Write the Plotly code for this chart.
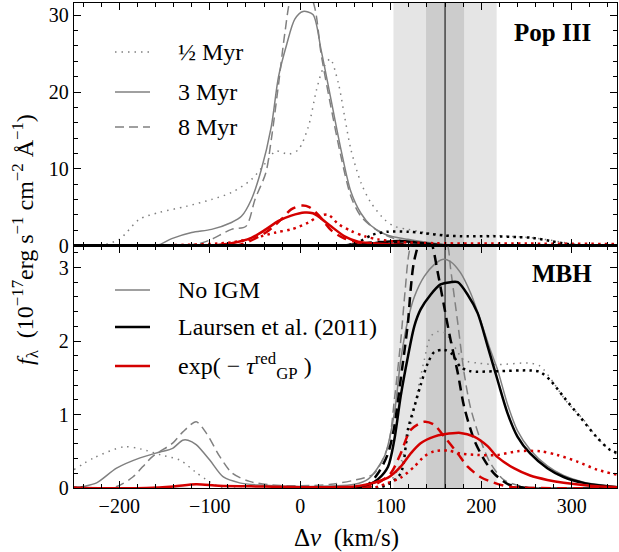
import plotly.graph_objects as go
from plotly.subplots import make_subplots

# ---------------- axis ranges / markers ----------------
X_RANGE = [-250, 350]
TOP_YRANGE = [0, 31.6]
BOT_YRANGE = [0, 3.3]
LAURSEN_V = 160
BAND_OUTER = [103, 217]
BAND_INNER = [139, 181]

# ---------------- Pop III panel ----------------
v_p3_int_05 = [-250, -222, -200, -178, -156, -126, -98, -76, -54, -38, -27, -13, -2, 9, 18, 25, 33, 42, 49, 56, 67, 78, 93, 104, 119, 137, 159, 185, 210, 231, 256, 276, 291, 307, 320, 350]
f_p3_int_05 = [0, 0, 0.8, 3.4, 4.3, 5.1, 6.0, 6.9, 8.6, 10.8, 12.3, 11.9, 12.5, 15.5, 20.3, 23.0, 24.3, 21.2, 16.8, 12.5, 8.2, 5.6, 3.4, 2.5, 2.1, 1.7, 1.4, 1.2, 1.3, 1.2, 1.0, 0.7, 0.4, 0.1, 0, 0]

v_p3_int_3 = [-250, -170, -156, -142, -120, -98, -76, -65, -54, -43, -32, -24, -15, -6, 3, 14, 23, 34, 45, 56, 67, 78, 93, 104, 119, 130, 148, 165, 350]
f_p3_int_3 = [0, 0, 0.1, 0.9, 1.7, 2.1, 3.0, 3.8, 6.0, 9.9, 15.5, 22.0, 26.2, 29.5, 30.5, 30.1, 25.5, 19.0, 12.5, 7.0, 4.2, 2.6, 1.5, 1.1, 0.8, 0.6, 0.3, 0.05, 0]

v_p3_int_8 = [-250, -130, -110, -98, -76, -60, -50, -38, -32, -24, -17, -10, 3, 16, 23, 34, 45, 56, 67, 82, 97, 120, 150, 350]
f_p3_int_8 = [0, 0, 0.3, 0.8, 2.1, 2.5, 6.0, 9.5, 13.8, 21.0, 27.7, 32.5, 35.0, 31.0, 25.0, 18.0, 11.6, 6.4, 3.8, 2.2, 1.2, 0.4, 0, 0]

v_p3_lau_05 = [-250, 50, 65, 80, 97, 119, 137, 159, 185, 214, 240, 256, 276, 290, 301, 315, 350]
f_p3_lau_05 = [0, 0, 0.5, 1.4, 1.8, 1.8, 1.6, 1.3, 1.2, 1.2, 1.1, 1.0, 0.6, 0.3, 0.1, 0, 0]

v_p3_lau_3 = [-250, 50, 75, 95, 110, 125, 145, 165, 350]
f_p3_lau_3 = [0, 0, 0.2, 0.5, 0.6, 0.45, 0.15, 0, 0]

v_p3_lau_8 = [-250, 45, 65, 85, 100, 120, 140, 350]
f_p3_lau_8 = [0, 0, 0.2, 0.45, 0.4, 0.15, 0, 0]

v_p3_gp_05 = [-250, -140, -76, -50, -27, -10, 9, 20, 31, 42, 56, 71, 86, 110, 150, 250, 350]
f_p3_gp_05 = [0, 0.05, 0.4, 1.0, 1.7, 2.1, 3.0, 3.8, 4.0, 2.8, 1.9, 1.2, 0.8, 0.45, 0.3, 0.25, 0.2]

v_p3_gp_3 = [-250, -100, -76, -54, -38, -24, -10, 5, 14, 20, 34, 49, 64, 80, 100, 130, 350]
f_p3_gp_3 = [0, 0, 0.3, 1.0, 2.1, 3.2, 3.9, 4.3, 4.2, 3.8, 2.5, 1.2, 0.5, 0.3, 0.15, 0, 0]

v_p3_gp_8 = [-250, -70, -38, -21, -10, 2, 10, 20, 34, 49, 64, 80, 100, 350]
f_p3_gp_8 = [0, 0, 1.7, 3.4, 4.7, 5.2, 5.0, 4.0, 2.0, 0.9, 0.4, 0.15, 0, 0]

# ---------------- MBH panel ----------------
v_mbh_int_05 = [-250, -228, -195, -176, -154, -133, -116, -101, -90, -75, 90, 108, 122, 130, 137, 144, 152, 160, 170, 181, 196, 218, 254, 265, 280, 294, 313, 327, 342, 350]
f_mbh_int_05 = [0.25, 0.41, 0.56, 0.53, 0.45, 0.38, 0.22, 0.09, 0.02, 0, 0, 0.25, 0.84, 1.34, 1.74, 2.06, 2.13, 2.11, 1.93, 1.74, 1.70, 1.68, 1.70, 1.66, 1.43, 1.18, 0.93, 0.70, 0.52, 0.46]

v_mbh_int_3 = [-250, -240, -225, -203, -177, -155, -141, -130, -124, -115, -100, -85, -67, -45, 0, 60, 75, 93, 104, 111, 119, 126, 137, 148, 157, 166, 177, 188, 199, 210, 218, 229, 240, 254, 273, 291, 313, 350]
f_mbh_int_3 = [0, 0.02, 0.07, 0.27, 0.41, 0.49, 0.54, 0.65, 0.65, 0.59, 0.38, 0.15, 0.07, 0.04, 0.02, 0.05, 0.12, 0.43, 1.02, 1.74, 2.29, 2.6, 2.88, 3.04, 3.11, 3.08, 2.93, 2.66, 2.29, 1.88, 1.61, 1.14, 0.78, 0.52, 0.3, 0.17, 0.08, 0.02]

v_mbh_int_8 = [-250, -210, -199, -185, -163, -141, -130, -115, -104, -89, -75, -56, -31, 0, 34, 71, 82, 97, 104, 111, 116, 121, 142, 163, 166, 174, 181, 188, 199, 210, 225, 247, 350]
f_mbh_int_8 = [0, 0, 0.04, 0.15, 0.43, 0.61, 0.76, 0.9, 0.75, 0.43, 0.2, 0.09, 0.04, 0.03, 0.05, 0.14, 0.2, 0.57, 1.2, 2.0, 2.7, 3.25, 4.0, 3.3, 3.0, 2.25, 1.57, 1.1, 0.66, 0.34, 0.11, 0.02, 0]

v_mbh_lau_05 = [-250, 80, 97, 111, 119, 126, 133, 141, 148, 159, 168, 177, 188, 218, 254, 265, 276, 291, 309, 327, 342, 350]
f_mbh_lau_05 = [0, 0, 0.05, 0.2, 0.8, 1.1, 1.4, 1.7, 1.85, 1.88, 1.82, 1.65, 1.59, 1.59, 1.6, 1.58, 1.47, 1.24, 0.97, 0.7, 0.52, 0.48]

v_mbh_lau_3 = [-250, 60, 75, 86, 97, 104, 111, 119, 126, 133, 144, 155, 166, 174, 185, 196, 207, 218, 229, 240, 254, 273, 291, 313, 350]
f_mbh_lau_3 = [0, 0, 0.04, 0.12, 0.29, 0.66, 1.25, 1.79, 2.2, 2.43, 2.63, 2.77, 2.8, 2.8, 2.63, 2.38, 1.93, 1.47, 1.02, 0.7, 0.47, 0.27, 0.15, 0.07, 0.01]

v_mbh_lau_8 = [-250, 60, 75, 86, 97, 104, 111, 119, 122, 126, 138, 146, 152, 159, 166, 174, 181, 192, 203, 214, 230, 250, 350]
f_mbh_lau_8 = [0, 0, 0.05, 0.2, 0.47, 0.84, 1.48, 2.25, 2.7, 3.1, 3.55, 3.3, 2.93, 2.47, 2.02, 1.57, 1.11, 0.66, 0.39, 0.2, 0.05, 0, 0]

v_mbh_gp_05 = [-250, 80, 97, 111, 126, 137, 148, 163, 177, 196, 218, 240, 265, 284, 306, 328, 350]
f_mbh_gp_05 = [0, 0, 0.07, 0.14, 0.29, 0.43, 0.5, 0.51, 0.47, 0.45, 0.45, 0.5, 0.5, 0.45, 0.36, 0.25, 0.18]

v_mbh_gp_3 = [-250, -170, -140, -115, -90, -40, 20, 60, 75, 97, 111, 122, 133, 148, 159, 177, 192, 207, 218, 236, 254, 273, 291, 320, 350]
f_mbh_gp_3 = [0, 0, 0.02, 0.05, 0.03, 0.02, 0.01, 0.02, 0.05, 0.14, 0.29, 0.47, 0.61, 0.7, 0.73, 0.75, 0.7, 0.57, 0.42, 0.27, 0.17, 0.11, 0.07, 0.03, 0.01]

v_mbh_gp_8 = [-250, 70, 86, 100, 111, 122, 137, 148, 159, 174, 185, 199, 210, 230, 350]
f_mbh_gp_8 = [0, 0, 0.07, 0.2, 0.47, 0.79, 0.9, 0.86, 0.7, 0.47, 0.29, 0.15, 0.09, 0.02, 0]

# ---------------- labels ----------------
AGE_LABELS = ["½ Myr", "3 Myr", "8 Myr"]
MODEL_LABELS = ["No IGM", "Laursen et al. (2011)", "exp( − <i>τ</i><sup>red</sup><sub>GP</sub> )"]
PANEL_LABELS = ["Pop III", "MBH"]
X_TICKS = [-200, -100, 0, 100, 200, 300]

# ---------------- styles ----------------
GRAY = "#808080"
BLACK = "#000000"
RED = "#d40000"
FONT = "Liberation Serif"
W_THIN = 1.5
W_THICK = 2.5
DASH = {"05": {"thin": "1.5px,5px", "thick": "2.5px,4.2px"},
        "3": {"thin": "solid", "thick": "solid"},
        "8": {"thin": "9px,5px", "thick": "10px,6px"}}

fig = make_subplots(rows=2, cols=1, shared_xaxes=True, vertical_spacing=0)

# background bands (through the x axis)
fig.add_shape(type="rect", xref="x", yref="paper", x0=BAND_OUTER[0], x1=BAND_OUTER[1], y0=0, y1=1,
              fillcolor="#e5e5e5", line_width=0, layer="below")
fig.add_shape(type="rect", xref="x", yref="paper", x0=BAND_INNER[0], x1=BAND_INNER[1], y0=0, y1=1,
              fillcolor="#cccccc", line_width=0, layer="below")
fig.add_shape(type="line", xref="x", yref="paper", x0=LAURSEN_V, x1=LAURSEN_V, y0=0, y1=1,
              line=dict(color="black", width=1), layer="below")

def add(row, x, y, color, age, thick):
    w = W_THICK if thick else W_THIN
    d = DASH[age]["thick" if thick else "thin"]
    fig.add_trace(go.Scatter(x=x, y=y, mode="lines", showlegend=False, hoverinfo="skip",
                             line=dict(color=color, width=w, dash=d, shape="spline", smoothing=0.8)),
                  row=row, col=1)

# Pop III
add(1, v_p3_int_05, f_p3_int_05, GRAY, "05", False)
add(1, v_p3_int_3, f_p3_int_3, GRAY, "3", False)
add(1, v_p3_int_8, f_p3_int_8, GRAY, "8", False)
add(1, v_p3_lau_05, f_p3_lau_05, BLACK, "05", True)
add(1, v_p3_lau_3, f_p3_lau_3, BLACK, "3", True)
add(1, v_p3_lau_8, f_p3_lau_8, BLACK, "8", True)
add(1, v_p3_gp_05, f_p3_gp_05, RED, "05", True)
add(1, v_p3_gp_3, f_p3_gp_3, RED, "3", True)
add(1, v_p3_gp_8, f_p3_gp_8, RED, "8", True)
# MBH
add(2, v_mbh_int_05, f_mbh_int_05, GRAY, "05", False)
add(2, v_mbh_int_3, f_mbh_int_3, GRAY, "3", False)
add(2, v_mbh_int_8, f_mbh_int_8, GRAY, "8", False)
add(2, v_mbh_lau_05, f_mbh_lau_05, BLACK, "05", True)
add(2, v_mbh_lau_3, f_mbh_lau_3, BLACK, "3", True)
add(2, v_mbh_lau_8, f_mbh_lau_8, BLACK, "8", True)
add(2, v_mbh_gp_05, f_mbh_gp_05, RED, "05", True)
add(2, v_mbh_gp_3, f_mbh_gp_3, RED, "3", True)
add(2, v_mbh_gp_8, f_mbh_gp_8, RED, "8", True)

axis_common = dict(showline=True, linecolor="black", linewidth=1.2, mirror="ticks", ticks="inside",
                   ticklen=7, tickwidth=1, tickcolor="black", showgrid=False, zeroline=False,
                   tickfont=dict(family=FONT, size=20, color="black"))
fig.update_xaxes(range=X_RANGE, tickvals=X_TICKS,
                 ticktext=[("−" + str(-t)) if t < 0 else str(t) for t in X_TICKS],
                 minor=dict(dtick=20, tick0=0, ticklen=4, ticks="inside", tickcolor="black", tickwidth=1),
                 **axis_common)
fig.update_xaxes(showticklabels=False, row=1, col=1)
fig.update_yaxes(range=TOP_YRANGE, dtick=10, tick0=0,
                 minor=dict(dtick=2, tick0=0, ticklen=4, ticks="inside", tickcolor="black", tickwidth=1),
                 row=1, col=1, **axis_common)
fig.update_yaxes(range=BOT_YRANGE, dtick=1, tick0=0,
                 minor=dict(dtick=0.2, tick0=0, ticklen=4, ticks="inside", tickcolor="black", tickwidth=1),
                 row=2, col=1, **axis_common)

# ---------------- manual legends ----------------
PW, PH, L, B = 543.0, 485.0, 74.0, 488.0
def px(xp): return (xp - L) / PW
def py(yp): return (B - yp) / PH

leg_top = [(52, GRAY, "05", False, AGE_LABELS[0]),
           (92, GRAY, "3", False, AGE_LABELS[1]),
           (127, GRAY, "8", False, AGE_LABELS[2])]
leg_bot = [(290, GRAY, "3", False, MODEL_LABELS[0]),
           (327, BLACK, "3", True, MODEL_LABELS[1]),
           (366, RED, "3", True, MODEL_LABELS[2])]
for yy, col, age, thick, txt in leg_top + leg_bot:
    w = W_THICK if thick else W_THIN
    d = DASH[age]["thick" if thick else "thin"]
    fig.add_shape(type="line", xref="paper", yref="paper", x0=px(115), x1=px(150), y0=py(yy), y1=py(yy),
                  line=dict(color=col, width=w, dash=d))
    fig.add_annotation(xref="paper", yref="paper", x=px(176), y=py(yy), text=txt, showarrow=False,
                       xanchor="left", yanchor="middle", font=dict(family=FONT, size=24, color="black"))

fig.add_annotation(xref="paper", yref="paper", x=px(552), y=py(32), text="<b>" + PANEL_LABELS[0] + "</b>",
                   showarrow=False, xanchor="center", yanchor="middle",
                   font=dict(family=FONT, size=25, color="black"))
fig.add_annotation(xref="paper", yref="paper", x=px(562), y=py(273), text="<b>" + PANEL_LABELS[1] + "</b>",
                   showarrow=False, xanchor="center", yanchor="middle",
                   font=dict(family=FONT, size=25, color="black"))

# axis titles
fig.add_annotation(xref="paper", yref="paper", x=px(346), y=py(538), text="Δ<i>v</i>  (km/s)",
                   showarrow=False, xanchor="center", yanchor="middle",
                   font=dict(family=FONT, size=25, color="black"))
fig.add_annotation(xref="paper", yref="paper", x=px(25), y=py(240), textangle=-90,
                   xanchor="center", yanchor="middle",
                   text="<i>f</i><sub>λ</sub>  (10<sup>−17</sup>erg s<sup>−1</sup> cm<sup>−2</sup> Å<sup>−1</sup>)",
                   showarrow=False, font=dict(family=FONT, size=24, color="black"))

fig.update_layout(width=619, height=552, margin=dict(l=74, r=2, t=3, b=64),
                  plot_bgcolor="white", paper_bgcolor="white", showlegend=False,
                  font=dict(family=FONT, color="black"))

fig.write_html("out.html", config={"displayModeBar": False, "staticPlot": True},
               post_script="document.body.style.margin='0px';document.body.style.overflow='hidden';")
